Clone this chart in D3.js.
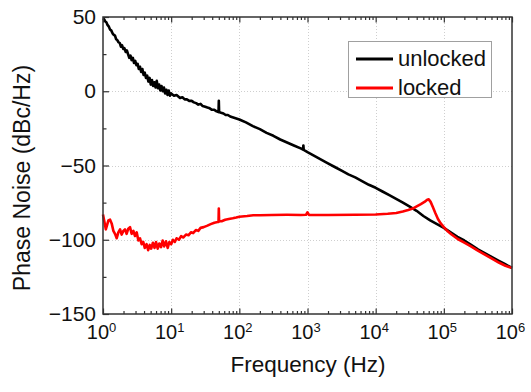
<!DOCTYPE html>
<html>
<head>
<meta charset="utf-8">
<script src="https://cdn.jsdelivr.net/npm/d3@7"></script>
<style>
  html, body { margin: 0; padding: 0; background: #fff; }
  svg { display: block; font-family: "Liberation Sans", Arial, sans-serif; }
</style>
</head>
<body>
<svg id="chart" width="531" height="392"></svg>
<script>
// Phase noise spectra, [frequency (Hz), dBc/Hz]
const unlocked = [
  [1.00,49],[1.04,48.5],[1.08,47],[1.12,46.5],[1.17,44.5],[1.22,43.5],[1.27,41.5],[1.32,41],
  [1.38,39],[1.44,38],[1.5,37.5],[1.56,35],[1.62,34.5],[1.69,33],[1.76,32.5],[1.83,30],
  [1.9,31],[1.98,28.5],[2.06,29],[2.15,26.5],[2.24,27.5],[2.33,25],[2.43,22.5],[2.53,24],
  [2.63,21],[2.74,22.5],[2.85,19],[2.97,20.5],[3.09,17.5],[3.22,18.5],[3.35,15],[3.49,16.5],
  [3.63,13],[3.78,15],[3.94,11],[4.1,12.5],[4.27,9],[4.45,10.5],[4.63,6.5],[4.82,9],
  [5.02,4.5],[5.23,7.5],[5.44,3.5],[5.67,6],[5.9,2.5],[6.15,7],[6.4,2],[6.66,4.5],
  [6.94,0.5],[7.22,3.5],[7.52,0],[7.83,2.5],[8.16,-1.5],[8.5,1],[8.85,-2.5],[9.21,0.5],
  [9.6,-3],[10,-1.5],[11,-3],[12,-2.5],[13.5,-4.5],[14.6,-4],[15.8,-5.5],[17,-5.5],
  [18.4,-6.5],[20,-6.5],[21.5,-7.5],[23.2,-8],[25,-9],[27,-8.5],[29,-10],[31.6,-10.5],
  [34,-11],[36.8,-11.5],[39.7,-12.5],[43,-12.5],[46.4,-13.5],[49.5,-14],[50,-6.5],[50.5,-14],
  [54,-14.5],[58.5,-15],[63,-16],[68,-16],[73.5,-17],[79.4,-17.5],[85.8,-18],[92.6,-18.5],
  [100,-19],[125,-21],[158,-23.5],[200,-25.5],[251,-28],[316,-30],[398,-32.5],[501,-34.5],
  [631,-36.5],[794,-38.5],[860,-39.3],[870,-36.5],[880,-39.5],[1000,-41],[1259,-43.5],[1585,-46],[1995,-48.5],
  [2512,-51],[3162,-53.5],[3981,-56],[5012,-58],[6310,-60.5],[7943,-63],[10000,-65],[12589,-67.5],
  [15849,-70],[19953,-72.5],[25119,-75],[31623,-77.7],[39811,-80.5],[50119,-84],[63096,-87],[79433,-89.5],
  [100000,-92],[125893,-95],[158489,-98],[199526,-100.5],[251189,-103.5],[316228,-106.5],[398107,-109],
  [501187,-111.5],[630957,-114],[794328,-116.5],[1000000,-119]
];

const locked = [
  [1.00,-83],[1.05,-88],[1.1,-93],[1.15,-90],[1.2,-87],[1.27,-86.5],[1.34,-89],[1.42,-94],
  [1.5,-96],[1.59,-99],[1.68,-95],[1.78,-93],[1.88,-96.5],[1.99,-94],[2.1,-93],[2.22,-96],
  [2.35,-92.5],[2.49,-91.5],[2.63,-96],[2.79,-94],[2.95,-97.5],[3.12,-95],[3.3,-100.5],[3.49,-99],
  [3.69,-103],[3.9,-101.5],[4.1,-105.5],[4.35,-103],[4.6,-107],[4.85,-103.5],[5.1,-106],[5.4,-102],
  [5.7,-105.5],[6.0,-101.5],[6.35,-106],[6.7,-102.5],[7.1,-105],[7.5,-100.5],[7.9,-104.5],[8.4,-101],
  [8.9,-105.5],[9.4,-101.5],[10,-103],[10.6,-100],[11.3,-101.5],[12,-99],[13,-100],[14,-97.5],
  [15,-98.5],[16.5,-96.5],[18,-97],[19.5,-95],[21,-95.5],[23,-93.5],[25,-94],[27,-92],
  [30,-91.5],[34,-90.5],[38,-89.5],[43,-88.5],[48,-88],[49.5,-88],[50,-79],[50.5,-87.5],
  [55,-87.5],[62,-86.5],[70,-86],[80,-85.5],[90,-85],[100,-84.5],[130,-84],[160,-83.5],
  [200,-83.5],[300,-83.3],[500,-83.2],[800,-83.3],[950,-83.2],[1000,-81.5],[1050,-83.3],[2000,-83.3],
  [5000,-83.2],[10000,-83],[15000,-82.5],[20000,-82],[25000,-81],[30000,-80],[35000,-79],[40000,-77.5],
  [46000,-76],[52000,-74.5],[57000,-73],[60000,-72.8],[64000,-74.5],[69000,-78],[75000,-82],[82000,-86],
  [90000,-89],[100000,-91.5],[115000,-94.5],[130000,-96.5],[160000,-99.5],[200000,-102],[250000,-104.5],
  [320000,-107.5],[400000,-110],[500000,-112.5],[650000,-115.5],[800000,-117.5],[1000000,-119]
];

const xDecades = [0, 1, 2, 3, 4, 5, 6];
const yMajor = [50, 0, -50, -100, -150];
const yMinor = [25, -25, -75, -125];
const seriesNames = ["unlocked", "locked"];
const seriesColors = ["#000000", "#ff0000"];

const margin = { left: 103, right: 19, top: 17, bottom: 78 };
const W = 531, H = 392;
const iw = W - margin.left - margin.right;
const ih = H - margin.top - margin.bottom;

const svg = d3.select("#chart");
const g = svg.append("g").attr("transform", `translate(${margin.left},${margin.top})`);

const x = d3.scaleLog().domain([1, 1e6]).range([0, iw]);
const y = d3.scaleLinear().domain([-150, 50]).range([ih, 0]);

const majorX = xDecades.map(e => Math.pow(10, e));
const minorX = [];
for (let e = 0; e < 6; e++) for (let m = 2; m <= 9; m++) minorX.push(m * Math.pow(10, e));

// dotted grid at major ticks
const grid = g.append("g").attr("stroke", "#cfcfcf").attr("stroke-width", 1).attr("stroke-dasharray", "1,2");
grid.selectAll("line.gx").data(majorX.slice(1, -1)).join("line")
  .attr("x1", d => Math.round(x(d)) + 0.5).attr("x2", d => Math.round(x(d)) + 0.5)
  .attr("y1", 0).attr("y2", ih);
grid.selectAll("line.gy").data(yMajor.slice(1, -1)).join("line")
  .attr("x1", 0).attr("x2", iw)
  .attr("y1", d => Math.round(y(d)) + 0.5).attr("y2", d => Math.round(y(d)) + 0.5);

// curves
const line = d3.line().x(d => x(d[0])).y(d => y(d[1]));
g.append("path").datum(unlocked)
  .attr("fill", "none").attr("stroke", seriesColors[0]).attr("stroke-width", 2.6)
  .attr("stroke-linejoin", "round").attr("d", line);
g.append("path").datum(locked)
  .attr("fill", "none").attr("stroke", seriesColors[1]).attr("stroke-width", 2.6)
  .attr("stroke-linejoin", "round").attr("d", line);

// axes (inward ticks)
function styleAxis(sel) {
  sel.select(".domain").remove();
  sel.selectAll(".tick line").attr("stroke", "#333").attr("stroke-width", 1.2);
}
g.append("g").attr("transform", `translate(0,${ih})`)
  .call(d3.axisBottom(x).tickValues(majorX).tickSize(-5.5).tickFormat(() => ""))
  .call(styleAxis);
g.append("g").attr("transform", `translate(0,${ih})`)
  .call(d3.axisBottom(x).tickValues(minorX).tickSize(-3).tickFormat(() => ""))
  .call(styleAxis);
g.append("g")
  .call(d3.axisTop(x).tickValues(majorX).tickSize(-5.5).tickFormat(() => ""))
  .call(styleAxis);
g.append("g")
  .call(d3.axisTop(x).tickValues(minorX).tickSize(-3).tickFormat(() => ""))
  .call(styleAxis);
const yAx = g.append("g")
  .call(d3.axisLeft(y).tickValues(yMajor).tickSize(-6).tickPadding(7).tickFormat(d3.format("d")))
  .call(styleAxis);
yAx.selectAll(".tick text").attr("font-size", 21).attr("fill", "#111")
  .attr("font-family", "'Liberation Sans', Arial, sans-serif");
g.append("g")
  .call(d3.axisLeft(y).tickValues(yMinor).tickSize(-3.5).tickFormat(() => ""))
  .call(styleAxis);

// frame
g.append("rect").attr("x", 0).attr("y", 0).attr("width", iw).attr("height", ih)
  .attr("fill", "none").attr("stroke", "#333").attr("stroke-width", 1.5);

// x tick labels as powers of ten
const xl = g.append("g").attr("fill", "#111");
xDecades.forEach(e => {
  const t = xl.append("text")
    .attr("x", x(Math.pow(10, e)) - 1.5)
    .attr("y", ih + 25)
    .attr("text-anchor", "middle")
    .attr("font-size", 20);
  t.append("tspan").text("10");
  t.append("tspan").attr("font-size", 13).attr("dy", -7).text(String(e));
});

// axis titles
svg.append("text").attr("x", 308).attr("y", 372).attr("text-anchor", "middle")
  .attr("font-size", 22.5).attr("fill", "#111").text("Frequency (Hz)");
svg.append("text").attr("transform", "translate(30,178) rotate(-90)")
  .attr("text-anchor", "middle").attr("font-size", 23).attr("fill", "#111")
  .text("Phase Noise (dBc/Hz)");

// legend
const lg = svg.append("g");
lg.append("rect").attr("x", 348.5).attr("y", 41.5).attr("width", 143).attr("height", 56)
  .attr("fill", "#fff").attr("stroke", "#a0a0a0").attr("stroke-width", 1);
seriesNames.forEach((name, i) => {
  const yy = 59 + i * 29;
  lg.append("line").attr("x1", 356).attr("x2", 393).attr("y1", yy).attr("y2", yy)
    .attr("stroke", seriesColors[i]).attr("stroke-width", 3);
  lg.append("text").attr("x", 398).attr("y", yy + 7).attr("font-size", 22)
    .attr("fill", "#111").text(name);
});
</script>
</body>
</html>
